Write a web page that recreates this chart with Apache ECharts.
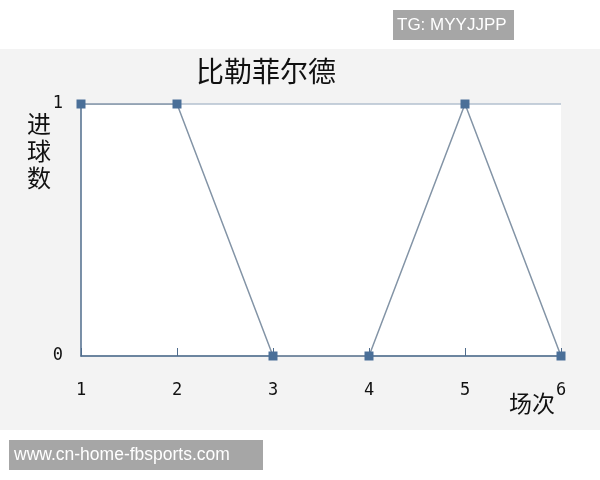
<!DOCTYPE html>
<html>
<head>
<meta charset="utf-8">
<script src="https://cdn.jsdelivr.net/npm/echarts@6/dist/echarts.min.js"></script>
<style>
  html, body { margin: 0; padding: 0; background: #fff; }
  #chart { width: 600px; height: 480px; }
</style>
</head>
<body>
<div id="chart"></div>
<script>
// 场次 / 进球数
const matchNo = [1, 2, 3, 4, 5, 6];
const goals = [1, 1, 0, 0, 1, 0];
const titleText = '比勒菲尔德';
const xName = '场次';
const yName = '进\n球\n数';

const cjk = '"Noto Sans CJK SC", sans-serif';
const mono = '"DejaVu Sans Mono", "Liberation Mono", monospace';
const axisColor = '#4f6c8c';

let chart = echarts.init(document.getElementById('chart'));

const option = {
  backgroundColor: '#ffffff',
  animation: false,
  title: {
    text: titleText,
    left: 191,
    top: 52,
    textStyle: { fontFamily: cjk, fontSize: 28, fontWeight: 'normal', color: '#111' }
  },
  grid: {
    left: 81,
    right: 39,
    top: 104,
    bottom: 124,
    containLabel: false,
    outerBoundsMode: 'none',
    show: true,
    backgroundColor: '#ffffff',
    borderWidth: 0
  },
  xAxis: {
    type: 'value',
    min: 1,
    max: 6,
    interval: 1,
    name: xName,
    nameLocation: 'end',
    nameGap: -6,
    nameMoveOverlap: false,
    nameTextStyle: {
      fontFamily: cjk, fontSize: 23, color: '#111',
      align: 'right', verticalAlign: 'top', padding: [36, 0, 0, 0]
    },
    axisLine: { lineStyle: { color: axisColor, width: 1.5 } },
    axisTick: { inside: true, length: 8, lineStyle: { color: axisColor } },
    axisLabel: { margin: 26, fontFamily: mono, fontSize: 17, color: '#111' },
    splitLine: { show: false }
  },
  yAxis: {
    type: 'value',
    min: 0,
    max: 1,
    interval: 1,
    name: yName,
    nameLocation: 'end',
    nameGap: -6,
    nameMoveOverlap: false,
    nameTextStyle: {
      fontFamily: cjk, fontSize: 24, lineHeight: 27, color: '#111',
      align: 'right', verticalAlign: 'top', padding: [0, 30, 0, 0]
    },
    axisLine: { show: true, lineStyle: { color: axisColor, width: 1.5 } },
    axisTick: { show: false },
    axisLabel: { margin: 18, fontFamily: mono, fontSize: 17, color: '#111' },
    splitLine: { show: true, lineStyle: { color: '#b3c1cf', width: 1.5 } }
  },
  series: [{
    type: 'line',
    data: matchNo.map((m, i) => [m, goals[i]]),
    symbol: 'rect',
    symbolSize: 9,
    lineStyle: { color: '#8394a6', width: 1.5 },
    itemStyle: { color: '#4a6f98' },
    z: 5
  }],
  graphic: [
    {
      type: 'rect', z: -10, silent: true,
      shape: { x: 0, y: 49, width: 600, height: 381 },
      style: { fill: '#f3f3f3' }
    },
    {
      type: 'group', left: 393, top: 10,
      children: [
        { type: 'rect', shape: { x: 0, y: 0, width: 121, height: 30 }, style: { fill: '#a6a6a6' } },
        { type: 'text', x: 4, y: 15, style: { text: 'TG: MYYJJPP', fill: '#fff', font: '17px "Liberation Sans", Arial, sans-serif', verticalAlign: 'middle' } }
      ]
    },
    {
      type: 'group', left: 9, top: 440,
      children: [
        { type: 'rect', shape: { x: 0, y: 0, width: 254, height: 30 }, style: { fill: '#a6a6a6' } },
        { type: 'text', x: 5, y: 15, style: { text: 'www.cn-home-fbsports.com', fill: '#fff', font: '17.5px "Liberation Sans", Arial, sans-serif', verticalAlign: 'middle' } }
      ]
    }
  ]
};

chart.setOption(option);
</script>
</body>
</html>
